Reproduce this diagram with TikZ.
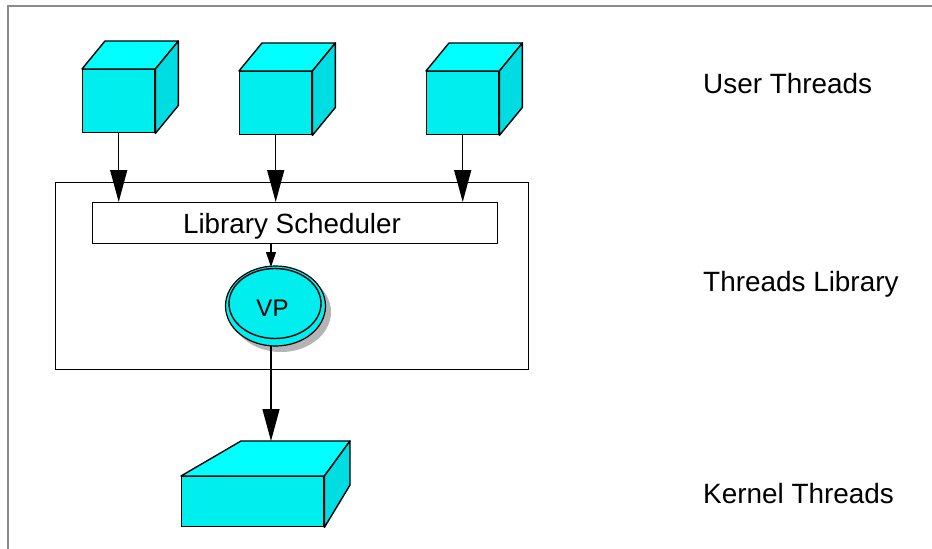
\documentclass[tikz,border=0pt]{standalone}
\usepackage{fontspec}
\setmainfont{Liberation Sans}
\usetikzlibrary{arrows.meta,calc,shapes.geometric}
\definecolor{cyfront}{HTML}{00EEEE}
\definecolor{cytop}{HTML}{00FFFF}
\definecolor{cyside}{HTML}{00DDE2}
\definecolor{framegray}{HTML}{8A8A8A}
\definecolor{shadowgray}{HTML}{B4B4B4}
\tikzset{
  facefront/.style={draw=black, line width=1.4pt, fill=cyfront, inner sep=0pt, rectangle},
  facetop/.style={draw=black, line width=1.4pt, fill=cytop, line join=round},
  faceside/.style={draw=black, line width=1.4pt, fill=cyside, line join=round},
  bigarrow/.style={line width=1.4pt, -{Triangle[length=32pt,width=17pt]}},
  smallarrow/.style={line width=1.2pt, -{Triangle[length=15pt,width=10pt]}},
  boxline/.style={draw=black, line width=1.3pt},
  label/.style={font=\fontsize{27.9}{32}\selectfont, anchor=base west, inner sep=0pt},
}
\begin{document}
\begin{tikzpicture}[x=1pt,y=-1pt]
\useasboundingbox (0,0) rectangle (932,549);
% outer frame (only top and left edges fall inside the page)
\draw[framegray, line width=1.5pt] (8,549) -- (8,6) -- (932,6);

% user thread cubes: front face as node, top and side drawn from its corners
\foreach \n/\x/\y in {u1/82/69, u2/239/71, u3/426/71}{
  \node[facefront, minimum width=72pt, minimum height=63pt, anchor=north west] (\n) at (\x,\y) {};
  \filldraw[facetop] (\n.north west) -- ++(23,-28) -- ($(\n.north east)+(23,-28)$) -- (\n.north east) -- cycle;
  \filldraw[faceside] (\n.north east) -- ++(23,-28) -- ($(\n.south east)+(23,-28)$) -- (\n.south east) -- cycle;
}

% threads library box and scheduler
\node[boxline, fill=white, minimum width=473pt, minimum height=187pt, anchor=north west, inner sep=0pt] (lib) at (55,182) {};
\node[boxline, fill=white, minimum width=405pt, minimum height=41pt, anchor=north west, inner sep=0pt] (sched) at (92,202) {};
\node[font=\fontsize{27.8}{30}\selectfont, inner sep=0pt, anchor=base] (schedtxt) at (292,233) {Library Scheduler};

% arrows from user threads into the scheduler
\foreach \n in {u1,u2,u3}{
  \draw[bigarrow] (\n.south) -- (\n.south |- sched.north);
}

% virtual processor
\fill[shadowgray] (281,312) ellipse [x radius=50pt, y radius=40pt];
\node[draw=black, line width=1.2pt, fill=cyfront, ellipse, minimum width=100pt, minimum height=80pt, inner sep=0pt] (vp) at (275.5,306) {};
\draw[line width=1.4pt] (275,303.5) ellipse [x radius=46pt, y radius=35pt];
\node[font=\fontsize{24}{26}\selectfont, inner sep=0pt, anchor=base] (vptxt) at (272.5,316) {VP};
\coordinate (vptop) at (271,267);
\coordinate (vpbot) at (271,346);
\draw[smallarrow] (sched.south -| vptop) -- (vptop);

% kernel thread slab
\node[facefront, minimum width=142pt, minimum height=50pt, anchor=north west] (k) at (181,476) {};
\filldraw[facetop] (k.north west) -- (241,441) -- (350,441) -- (k.north east) -- cycle;
\filldraw[faceside] (k.north east) -- (350,441) -- (350,485) -- (k.south east) -- cycle;
\coordinate (ktop) at (271,441);
\draw[bigarrow] (vpbot) -- (ktop);

% level labels
\node[label] (lu) at (703,93) {User Threads};
\node[label] (ll) at (703,291) {Threads Library};
\node[label] (lk) at (703,503) {Kernel Threads};
\end{tikzpicture}
\end{document}
